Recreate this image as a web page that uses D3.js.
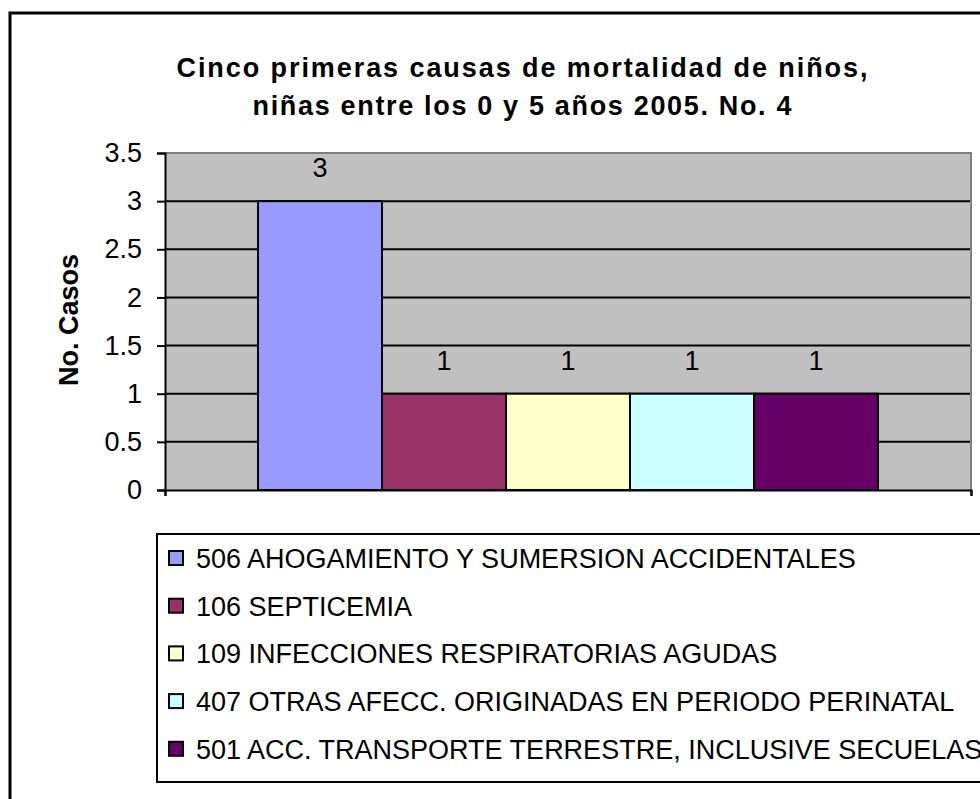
<!DOCTYPE html>
<html><head><meta charset="utf-8">
<script src="https://cdn.jsdelivr.net/npm/d3@7"></script>
<style>body{margin:0;background:#fff}svg{display:block}text{font-family:"Liberation Sans",Arial,sans-serif}</style>
</head><body><svg id="c" width="980" height="799"></svg>
<script>
const categories = ["506 AHOGAMIENTO Y SUMERSION ACCIDENTALES", "106 SEPTICEMIA", "109 INFECCIONES RESPIRATORIAS AGUDAS", "407 OTRAS AFECC. ORIGINADAS EN PERIODO PERINATAL", "501 ACC. TRANSPORTE TERRESTRE, INCLUSIVE SECUELAS"];
const values = [3, 1, 1, 1, 1];
const colors = ["#9999FF", "#993366", "#FFFFCC", "#CCFFFF", "#660066"];
const yTicks = [0, 0.5, 1, 1.5, 2, 2.5, 3, 3.5];
const titleLines = ["Cinco primeras causas de mortalidad de niños,", "niñas entre los 0 y 5 años 2005. No. 4"];
const yTitle = "No. Casos";

const svg = d3.select("#c");
const L = 165, R = 971, T = 153, B = 490;

// outer chart border
svg.append("rect").attr("x", 10).attr("y", 13).attr("width", 1000).attr("height", 820)
  .attr("fill", "#fff").attr("stroke", "#000").attr("stroke-width", 3);

// title
const titleW = [691, 539];
svg.append("g").selectAll("text").data(titleLines).join("text")
  .attr("x", 522).attr("y", (d, i) => 77 + i * 38)
  .attr("text-anchor", "middle").attr("font-size", 27).attr("font-weight", "bold")
  .attr("textLength", (d, i) => titleW[i]).attr("lengthAdjust", "spacing").text(d => d);

const y = d3.scaleLinear().domain([0, 3.5]).range([B, T]);
const x0 = d3.scaleBand().domain(["g"]).range([L, R]).paddingInner(0).paddingOuter(0.15);
const x1 = d3.scaleBand().domain(categories).range([0, x0.bandwidth()]).padding(0);

// plot background
svg.append("rect").attr("x", L).attr("y", T).attr("width", R - L).attr("height", B - T).attr("fill", "#C0C0C0");
// gridlines
svg.append("g").selectAll("line").data(yTicks.filter(t => t > 0 && t < 3.5)).join("line")
  .attr("x1", L).attr("x2", R).attr("y1", d => y(d)).attr("y2", d => y(d))
  .attr("stroke", "#000").attr("stroke-width", 2);
// plot border top/right (gray)
svg.append("path").attr("d", `M${L},${T}H${R}V${B}`).attr("fill", "none").attr("stroke", "#808080").attr("stroke-width", 2);

// bars
svg.append("g").selectAll("rect").data(values).join("rect")
  .attr("x", (d, i) => x0("g") + x1(categories[i]))
  .attr("y", d => y(d)).attr("width", x1.bandwidth()).attr("height", d => B - y(d))
  .attr("fill", (d, i) => colors[i]).attr("stroke", "#000").attr("stroke-width", 2);
// data labels
svg.append("g").selectAll("text").data(values).join("text")
  .attr("x", (d, i) => x0("g") + x1(categories[i]) + x1.bandwidth() / 2)
  .attr("y", d => y(d) - 24).attr("text-anchor", "middle").attr("font-size", 27).text(d => d);

// y axis
const yAxis = d3.axisLeft(y).tickValues(yTicks).tickSize(8).tickPadding(15).tickFormat(d3.format("~g"));
const ga = svg.append("g").attr("transform", `translate(${L},0)`).call(yAxis);
ga.select(".domain").attr("stroke", "#000").attr("stroke-width", 2);
ga.selectAll(".tick line").attr("stroke", "#000").attr("stroke-width", 2);
ga.selectAll(".tick text").attr("font-size", 27).attr("font-family", "Liberation Sans, Arial, sans-serif").attr("fill", "#000");
// x axis
const xAxis = d3.axisBottom(d3.scaleLinear().domain([0, 1]).range([L, R])).tickValues([0, 1]).tickSize(6).tickFormat("");
const gx = svg.append("g").attr("transform", `translate(0,${B})`).call(xAxis);
gx.select(".domain").attr("stroke", "#000").attr("stroke-width", 2);
gx.selectAll(".tick line").attr("stroke", "#000").attr("stroke-width", 2);

// y title
svg.append("text").attr("transform", `translate(78,320) rotate(-90)`)
  .attr("text-anchor", "middle").attr("font-size", 27).attr("font-weight", "bold").text(yTitle);

// legend
svg.append("rect").attr("x", 157).attr("y", 534).attr("width", 900).attr("height", 248)
  .attr("fill", "#fff").attr("stroke", "#000").attr("stroke-width", 2);
const lg = svg.append("g").selectAll("g").data(categories).join("g")
  .attr("transform", (d, i) => `translate(0,${558 + i * 47.7})`);
lg.append("rect").attr("x", 169).attr("y", -7).attr("width", 14).attr("height", 14)
  .attr("fill", (d, i) => colors[i]).attr("stroke", "#000").attr("stroke-width", 2);
lg.append("text").attr("x", 196).attr("y", 10).attr("font-size", 27).text(d => d);
</script></body></html>
